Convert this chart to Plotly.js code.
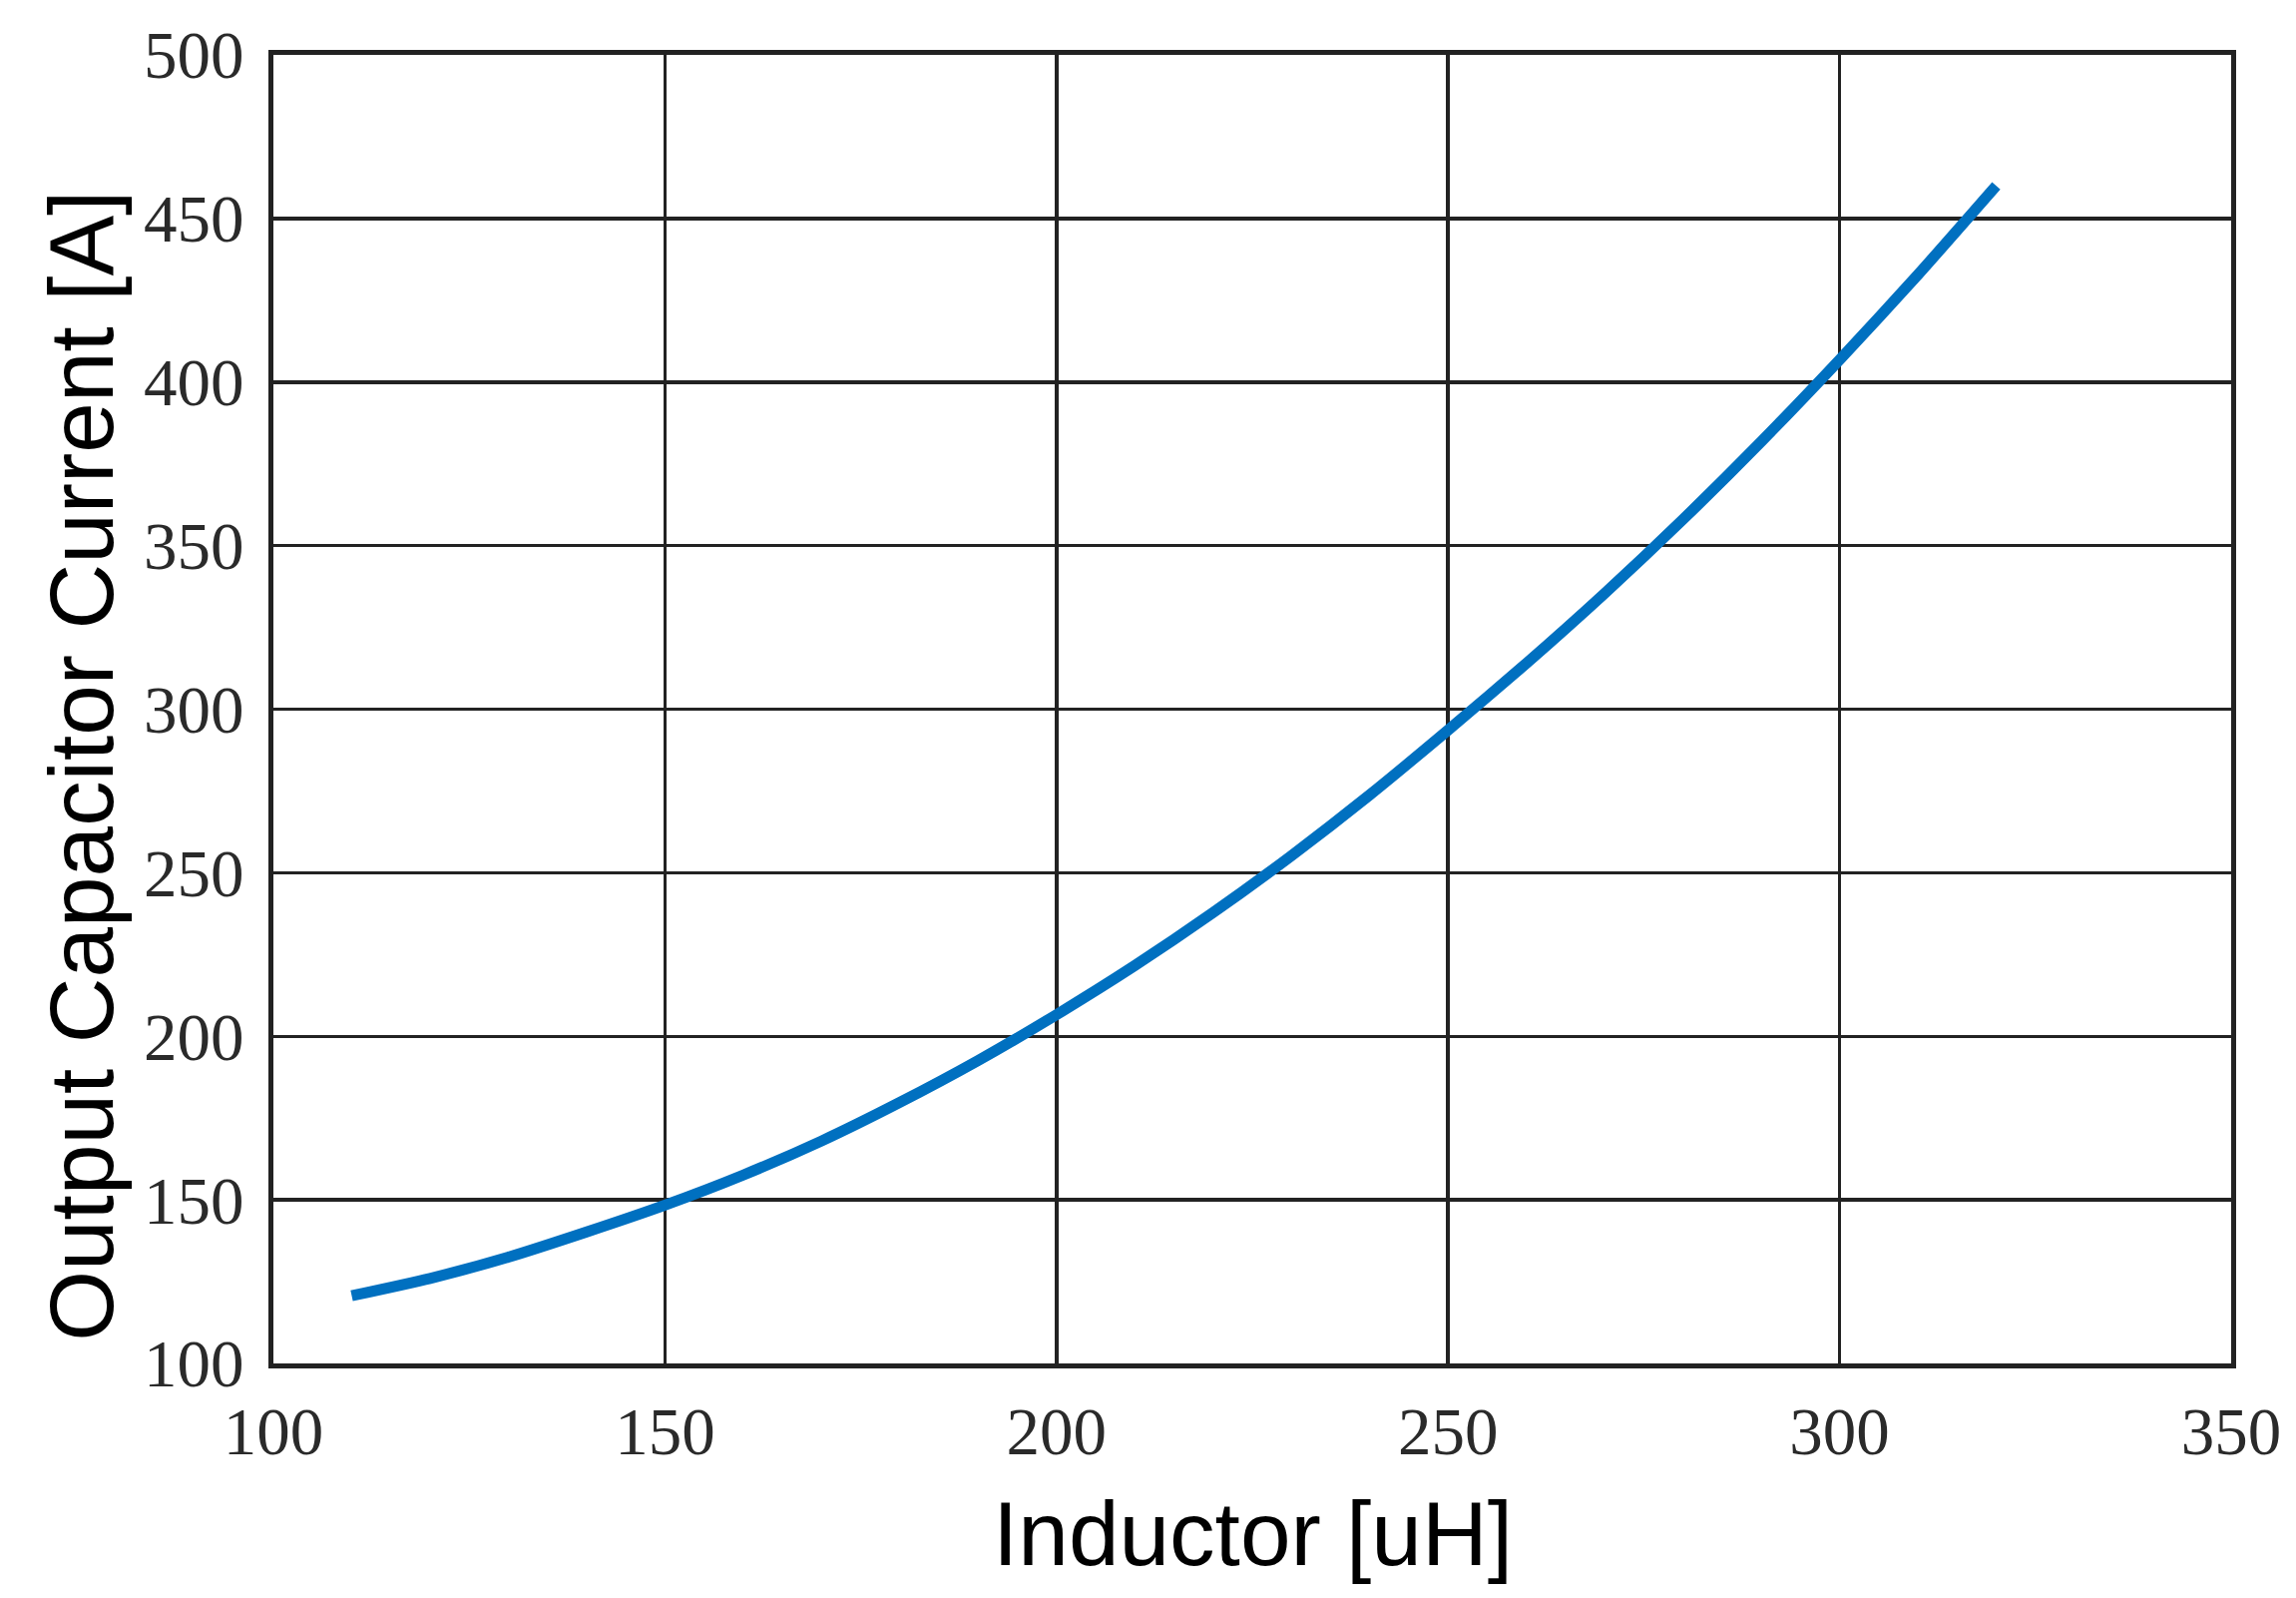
<!DOCTYPE html>
<html>
<head>
<meta charset="utf-8">
<script src="https://cdn.plot.ly/plotly-3.0.1.min.js"></script>
<style>
  html, body { margin: 0; padding: 0; background: #fff; }
  #chart { width: 2301px; height: 1601px; }
</style>
</head>
<body>
<div id="chart"></div>
<script>
// Inductance (uH) vs output capacitor current (A)
const inductor = [110, 120, 130, 140, 150, 160, 170, 180, 190, 200, 210,
                  220, 230, 240, 250, 260, 270, 280, 290, 300, 310, 320];
const capCurrent = [120.7, 126, 132.5, 140.2, 148.4, 157.6, 168, 179.8, 192.6, 206.6, 221.6,
                    237.8, 255.2, 273.8, 293.6, 314, 335.4, 358, 381.8, 406.8, 432.8, 460];

const xTicks = [100, 150, 200, 250, 300, 350];
const yTicks = [100, 150, 200, 250, 300, 350, 400, 450, 500];

const xTitle = 'Inductor [uH]';
const yTitle = 'Output Capacitor Current [A]';

const CURVE_COLOR = '#0070c0';
const GRID_COLOR = '#222222';

const trace = {
    x: inductor,
    y: capCurrent,
    type: 'scatter',
    mode: 'lines',
    line: { color: CURVE_COLOR, width: 11, shape: 'spline', smoothing: 0.6 },
    hoverinfo: 'x+y',
};

const tickFont = { family: 'Liberation Serif, Times New Roman, serif', size: 67, color: '#2a2a2a' };
const titleFont = { family: 'Liberation Sans, Arial, sans-serif', size: 91, color: '#000' };

const layout = {
    width: 2301,
    height: 1601,
    margin: { l: 274, r: 65, t: 55, b: 235 },
    paper_bgcolor: '#fff',
    plot_bgcolor: '#fff',
    showlegend: false,
    xaxis: {
        range: [100, 350],
        tickvals: xTicks,
        ticktext: xTicks.map(String),
        tickfont: tickFont,
        ticks: '',
        ticklabelstandoff: 6,
        showgrid: true,
        gridcolor: GRID_COLOR,
        gridwidth: 3.5,
        zeroline: false,
        showline: true,
        mirror: true,
        linecolor: GRID_COLOR,
        linewidth: 5,
    },
    yaxis: {
        range: [100, 500],
        tickvals: yTicks,
        ticktext: yTicks.map(String),
        tickfont: tickFont,
        ticks: '',
        ticklabelstandoff: 11,
        showgrid: true,
        gridcolor: GRID_COLOR,
        gridwidth: 3.5,
        zeroline: false,
        showline: true,
        mirror: true,
        linecolor: GRID_COLOR,
        linewidth: 5,
    },
    annotations: [
        {
            text: xTitle,
            xref: 'paper', yref: 'paper',
            x: 0.5, y: -0.1304,
            xanchor: 'center', yanchor: 'middle',
            showarrow: false,
            font: titleFont,
        },
        {
            text: yTitle,
            xref: 'paper', yref: 'paper',
            x: -0.0979, y: 0.457,
            xanchor: 'center', yanchor: 'middle',
            textangle: -90,
            showarrow: false,
            font: titleFont,
        },
    ],
};

Plotly.newPlot('chart', [trace], layout, { displayModeBar: false, staticPlot: true });
</script>
</body>
</html>
